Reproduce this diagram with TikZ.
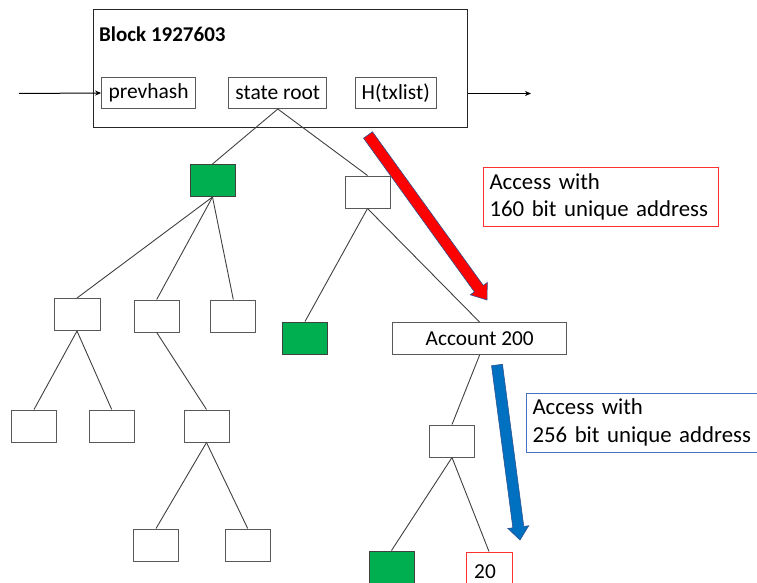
\documentclass[tikz,border=0pt]{standalone}
\usepackage{fontspec}
\setmainfont{Carlito}
\usetikzlibrary{calc,arrows.meta}
\definecolor{offgreen}{HTML}{00B050}
\definecolor{boxgray}{HTML}{595959}
\definecolor{linegray}{HTML}{404040}
\definecolor{arrblue}{HTML}{0070C0}
\definecolor{outblue}{HTML}{2F528F}
\definecolor{redline}{HTML}{FF3030}
\definecolor{blueline}{HTML}{4472C4}
\begin{document}
\begin{tikzpicture}[x=1pt,y=-1pt,
  box/.style={draw=boxgray, line width=1pt, fill=white, inner sep=0pt, minimum width=45pt, minimum height=32pt},
  gbox/.style={box, fill=offgreen, draw=linegray},
  inbox/.style={draw=boxgray, line width=1pt, inner sep=0pt, minimum height=31pt, font=\fontsize{21.5}{25}\selectfont},
  edge/.style={draw=linegray, line width=0.9pt},
  conn/.style={draw=black, line width=1pt, -{Stealth[length=6pt,width=5pt]}},
  note/.style={line width=1pt, inner sep=6pt, align=left, font=\fontsize{22.8}{27.5}\selectfont, anchor=west},
  bigarrow/.style={draw=outblue, line width=0.6pt}]
\useasboundingbox (0,0) rectangle (757,583);

% block
\node[draw=black!85, line width=1pt, minimum width=374pt, minimum height=118pt, inner sep=0pt] (block) at (280,69) {};
\node[anchor=west, inner sep=0pt, font=\fontsize{21}{25}\selectfont\bfseries] (btitle) at (99,34) {Block 1927603};
\node[inbox, minimum width=94pt] (prev) at (148.6,93) {prevhash};
\node[inbox, minimum width=98pt] (sroot) at (277.8,93) {state root};
\node[inbox, minimum width=81pt] (htx) at (395.7,93) {H(txlist)};
\coordinate (lin) at (19,93.5);
\coordinate (rout) at (531,93.5);
\draw[conn] (lin) -- (prev.west);
\draw[conn] (block.east |- rout) -- (rout);

% tree
\node[gbox] (g1) at (212.5,180.5) {};
\node[box] (w1) at (367.5,192) {};
\node[box, minimum width=46pt] (a) at (77,314.5) {};
\node[box] (b) at (156.7,316) {};
\node[box] (c) at (233.3,316) {};
\node[gbox] (g2) at (305,338) {};
\node[box] (d) at (34,426) {};
\node[box] (e) at (111.7,426) {};
\node[box] (f) at (206.5,426) {};
\node[box] (g) at (156,545) {};
\node[box] (h) at (247.7,545) {};
\node[box, minimum width=174pt, minimum height=31.6pt, font=\fontsize{21.3}{25}\selectfont] (acc) at (479.7,338.5) {Account 200};
\node[box] (w2) at (452,441) {};
\node[gbox] (g3) at (391.5,567) {};
\node[box, draw=redline, minimum width=46pt] (v20) at (489,568) {};
\node[anchor=west, inner sep=0pt, font=\fontsize{21.3}{25}\selectfont] (t20) at (474,571.5) {20};

\draw[edge] (sroot.south) -- (g1.north);
\draw[edge] (sroot.south) -- (w1.north);
\draw[edge] (g1.south) -- (a.north);
\draw[edge] (g1.south) -- (b.north);
\draw[edge] (g1.south) -- (c.north);
\draw[edge] (a.south) -- (d.north);
\draw[edge] (a.south) -- (e.north);
\draw[edge] (b.south) -- (f.north);
\draw[edge] (f.south) -- (g.north);
\draw[edge] (f.south) -- (h.north);
\draw[edge] (w1.south) -- (g2.north);
\draw[edge] (w1.south) -- (acc.north);
\draw[edge] (acc.south) -- (w2.north);
\draw[edge] (w2.south) -- (g3.north);
\draw[edge] (w2.south) -- (v20.north);

% notes
\node[note, draw=redline, text width=223pt] (n1) at (483,197) {Access with\\160 bit unique address};
\node[note, draw=blueline, text width=240pt] (n2) at (526,422.5) {Access with\\256 bit unique address};

% red arrow
\coordinate (rt) at (368,135);
\coordinate (rp) at (487,300);
\coordinate (rh) at ($(rp)!14pt!(rt)$);
\fill[red, bigarrow] ($(rt)!5.5pt!90:(rp)$) -- ($(rh)!5.5pt!90:(rp)$) -- ($(rh)!10.5pt!90:(rp)$) -- (rp)
  -- ($(rh)!10.5pt!-90:(rp)$) -- ($(rh)!5.5pt!-90:(rp)$) -- ($(rt)!5.5pt!-90:(rp)$) -- cycle;
% blue arrow
\coordinate (bt) at (497,365);
\coordinate (bp) at (520,540);
\coordinate (bh) at ($(bp)!13pt!(bt)$);
\fill[arrblue, bigarrow] ($(bt)!5.5pt!90:(bp)$) -- ($(bh)!5.5pt!90:(bp)$) -- ($(bh)!10.5pt!90:(bp)$) -- (bp)
  -- ($(bh)!10.5pt!-90:(bp)$) -- ($(bh)!5.5pt!-90:(bp)$) -- ($(bt)!5.5pt!-90:(bp)$) -- cycle;
\end{tikzpicture}
\end{document}
